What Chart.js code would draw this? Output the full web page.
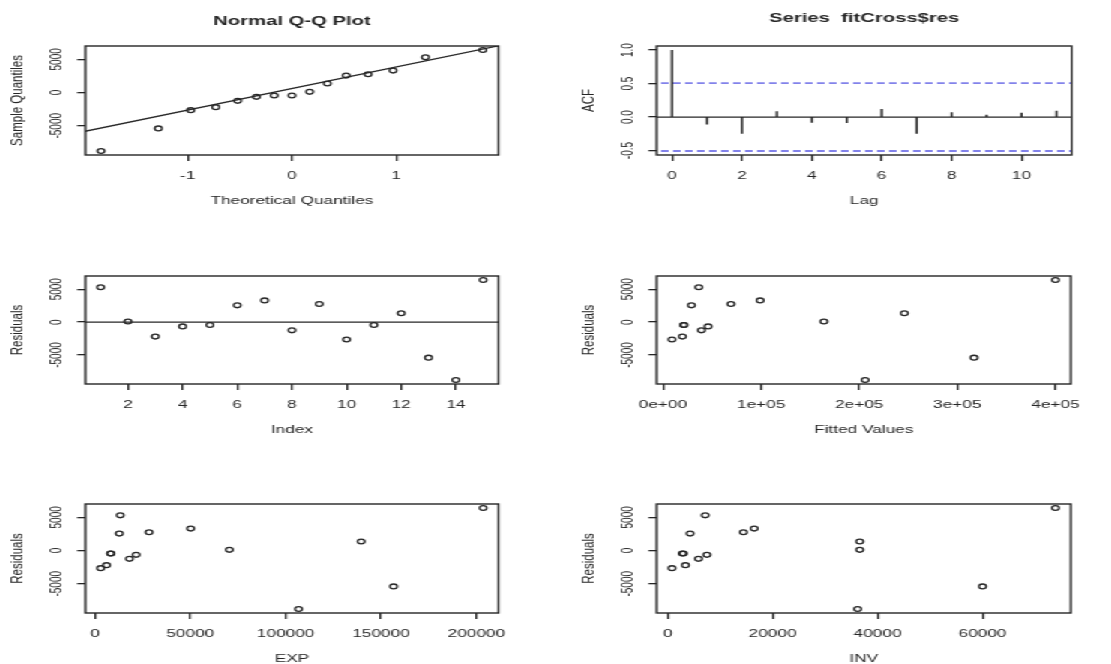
<!DOCTYPE html>
<html>
<head>
<meta charset="utf-8">
<script src="https://cdn.jsdelivr.net/npm/chart.js@4.4.1/dist/chart.umd.min.js"></script>
<style>
html, body { margin: 0; padding: 0; background: #fff; overflow: hidden; }
#stage { position: absolute; left: 0; top: 0; width: 741px; height: 664px; transform-origin: 0 0; transform: scaleX(1.4993); }
#stage canvas { position: absolute; }
</style>
</head>
<body>
<div id="stage"></div>
<script>
// residual diagnostics of fitCross
const obsIndex = [1, 2, 3, 4, 5, 6, 7, 8, 9, 10, 11, 12, 13, 14, 15];
const residuals = [5300, 100, -2200, -650, -450, 2550, 3300, -1250, 2750, -2650, -450, 1350, -5400, -8800, 6400];
const fittedValues = [36500, 164000, 19800, 46000, 21000, 29000, 99000, 39200, 69300, 9200, 21500, 246000, 317000, 206000, 400000];
const expValues = [13300, 70500, 6100, 21600, 8200, 12800, 50200, 18100, 28400, 3000, 8400, 139600, 156600, 106800, 203600];
const invValues = [7160, 36600, 3390, 7480, 2800, 4280, 16490, 5880, 14440, 830, 3000, 36600, 60000, 36200, 73900];

// normal q-q
const theoQuantiles = [-1.83, -1.28, -0.97, -0.73, -0.52, -0.34, -0.17, 0, 0.17, 0.34, 0.52, 0.73, 0.97, 1.28, 1.83];
const sampleQuantiles = [-8800, -5400, -2650, -2200, -1250, -650, -450, -450, 100, 1350, 2550, 2750, 3300, 5300, 6400];
const qqLineX = [-2.2, 2.2];
const qqLineY = [-6550, 7750];

// acf
const acfLags = [0, 1, 2, 3, 4, 5, 6, 7, 8, 9, 10, 11];
const acfValues = [1.0, -0.11, -0.25, 0.085, -0.085, -0.09, 0.12, -0.25, 0.07, 0.035, 0.065, 0.095];
const acfLimit = 0.506;

// ticks
const qqXTicks = [-1, 0, 1];
const resYTicks = [-5000, 0, 5000];
const acfXTicks = [0, 2, 4, 6, 8, 10];
const acfYTicks = [-0.5, 0, 0.5, 1];
const acfYLabels = ['-0.5', '0.0', '0.5', '1.0'];
const indexTicks = [2, 4, 6, 8, 10, 12, 14];
const fittedTicks = [0, 100000, 200000, 300000, 400000];
const fittedLabels = ['0e+00', '1e+05', '2e+05', '3e+05', '4e+05'];
const expTicks = [0, 50000, 100000, 150000, 200000];
const invTicks = [0, 20000, 40000, 60000];

const FONT = "'Liberation Sans', Arial, sans-serif";
const INK = '#262626';
const SX = 1111 / 741;
const Y_AXIS_W = 57, TOP_SPACE = 46, X_AXIS_H = 60, RIGHT_PAD = 20;
const stage = document.getElementById('stage');

const measureCtx = document.createElement('canvas').getContext('2d');
function textWidth(str, size) {
    measureCtx.font = size + 'px ' + FONT;
    return measureCtx.measureText(str).width;
}

function xAxis(min, max, ticks, labels, title) {
    return {
        type: 'linear', position: 'bottom', min: min, max: max, offset: false,
        afterBuildTicks: s => { s.ticks = ticks.map(v => ({ value: v })); },
        afterFit: s => { s.height = X_AXIS_H; },
        ticks: {
            autoSkip: false, minRotation: 0, maxRotation: 0, padding: 8.2, color: INK,
            font: { family: FONT, size: 11.5 },
            callback: v => labels[ticks.indexOf(v)]
        },
        grid: { drawOnChartArea: false, drawTicks: true, tickLength: 6, color: INK, lineWidth: 1.3 },
        border: { display: false },
        title: { display: true, text: title, color: INK, font: { family: FONT, size: 11.5 }, padding: { top: 0, bottom: 7.6 } }
    };
}

function yAxis(min, max, ticks, labels, title) {
    const widest = Math.max(...labels.map(l => textWidth(l, 10)));
    return {
        type: 'linear', position: 'left', min: min, max: max,
        afterBuildTicks: s => { s.ticks = ticks.map(v => ({ value: v })); },
        afterFit: s => { s.width = Y_AXIS_W; },
        ticks: {
            autoSkip: false, minRotation: 90, maxRotation: 90, crossAlign: 'center',
            padding: 18.7 - 5.5 - widest / 2, color: INK,
            font: { family: FONT, size: 10 },
            callback: v => labels[ticks.indexOf(v)]
        },
        grid: { drawOnChartArea: false, drawTicks: true, tickLength: 5.5, color: INK, lineWidth: 1.3 },
        border: { display: false },
        title: { display: true, text: title, color: INK, font: { family: FONT, size: 11.5 }, padding: { top: 4.8, bottom: 0 } }
    };
}

// R style frame round the plot region
const boxPlugin = {
    id: 'box',
    afterDraw(chart) {
        const a = chart.chartArea, ctx = chart.ctx;
        ctx.save();
        ctx.strokeStyle = INK;
        ctx.lineWidth = 1.4;
        ctx.strokeRect(a.left, a.top, a.right - a.left, a.bottom - a.top);
        ctx.restore();
    }
};

function points(xs, ys) {
    return {
        data: xs.map((x, i) => ({ x: x, y: ys[i] })),
        showLine: false, pointRadius: 2.4, borderWidth: 1.3,
        borderColor: INK, backgroundColor: 'rgba(0,0,0,0)'
    };
}
function line(xs, ys, color, width, dash) {
    return {
        data: xs.map((x, i) => ({ x: x, y: ys[i] })),
        showLine: true, pointRadius: 0, borderWidth: width, borderColor: color,
        borderDash: dash || [], fill: false, tension: 0
    };
}

function makePanel(box, title, titleY, datasets, scales) {
    const boxW = (box.r - box.l) / SX;
    const w = Math.ceil(Y_AXIS_W + boxW + RIGHT_PAD);
    const h = TOP_SPACE + (box.b - box.t) + X_AXIS_H;
    const cv = document.createElement('canvas');
    cv.width = w;
    cv.height = h;
    cv.style.left = (box.l / SX - Y_AXIS_W) + 'px';
    cv.style.top = (box.t - TOP_SPACE) + 'px';
    stage.appendChild(cv);
    const padTop = titleY - 8.1;
    return new Chart(cv, {
        type: 'scatter',
        data: { datasets: datasets },
        options: {
            responsive: false, animation: false, devicePixelRatio: 1, events: [],
            layout: { padding: { left: 0, top: title ? 0 : TOP_SPACE, right: w - Y_AXIS_W - boxW, bottom: 0 } },
            plugins: {
                legend: { display: false },
                tooltip: { enabled: false },
                title: title ? {
                    display: true, text: title, fullSize: false, color: INK,
                    font: { family: FONT, size: 13.5, weight: 'bold' },
                    padding: { top: padTop, bottom: TOP_SPACE - 16.2 - padTop }
                } : { display: false }
            },
            scales: scales
        },
        plugins: [boxPlugin]
    });
}

const resMin = -9408, resMax = 7008;
const resLabels = resYTicks.map(String);

// Normal Q-Q Plot
makePanel({ l: 86, t: 46, r: 499, b: 155 }, 'Normal Q-Q Plot', 21,
    [points(theoQuantiles, sampleQuantiles), line(qqLineX, qqLineY, INK, 1.3)],
    {
        x: xAxis(-1.98, 1.98, qqXTicks, qqXTicks.map(String), 'Theoretical Quantiles'),
        y: yAxis(resMin, resMax, resYTicks, resLabels, 'Sample Quantiles')
    });

// ACF of residuals
const acfSets = acfLags.map((lag, i) => line([lag, lag], [0, acfValues[i]], INK, 1.5));
acfSets.push(line([-1, 12], [0, 0], INK, 1.3));
acfSets.push(line([-1, 12], [acfLimit, acfLimit], '#8282ea', 1.8, [5, 3]));
acfSets.push(line([-1, 12], [-acfLimit, -acfLimit], '#8282ea', 1.8, [5, 3]));
makePanel({ l: 656, t: 46, r: 1071, b: 155 }, 'Series  fitCross$res', 18.5, acfSets,
    {
        x: xAxis(-0.44, 11.44, acfXTicks, acfXTicks.map(String), 'Lag'),
        y: yAxis(-0.566, 1.06, acfYTicks, acfYLabels, 'ACF')
    });

// residuals by index
makePanel({ l: 86, t: 276, r: 499, b: 384 }, null, 0,
    [points(obsIndex, residuals), line([0, 16], [0, 0], INK, 1.3)],
    {
        x: xAxis(0.44, 15.56, indexTicks, indexTicks.map(String), 'Index'),
        y: yAxis(resMin, resMax, resYTicks, resLabels, 'Residuals')
    });

// residuals vs fitted
makePanel({ l: 657, t: 276, r: 1071, b: 384 }, null, 0,
    [points(fittedValues, residuals)],
    {
        x: xAxis(-6432, 415632, fittedTicks, fittedLabels, 'Fitted Values'),
        y: yAxis(resMin, resMax, resYTicks, resLabels, 'Residuals')
    });

// residuals vs EXP
makePanel({ l: 86, t: 504, r: 499, b: 613 }, null, 0,
    [points(expValues, residuals)],
    {
        x: xAxis(-5024, 211624, expTicks, expTicks.map(String), 'EXP'),
        y: yAxis(resMin, resMax, resYTicks, resLabels, 'Residuals')
    });

// residuals vs INV
makePanel({ l: 657, t: 504, r: 1071, b: 613 }, null, 0,
    [points(invValues, residuals)],
    {
        x: xAxis(-2093, 76823, invTicks, invTicks.map(String), 'INV'),
        y: yAxis(resMin, resMax, resYTicks, resLabels, 'Residuals')
    });
</script>
</body>
</html>
